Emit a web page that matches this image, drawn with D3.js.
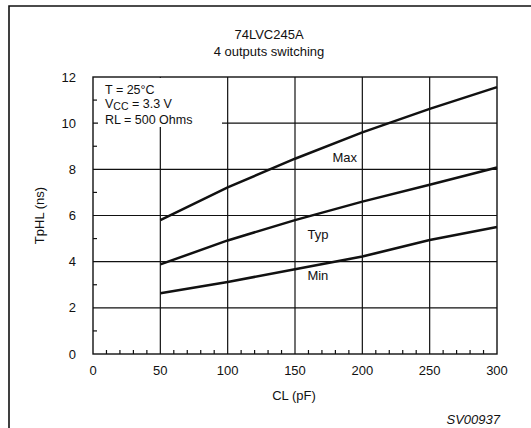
<!DOCTYPE html>
<html lang="en">
<head>
<meta charset="UTF-8">
<title>74LVC245A TpHL vs CL</title>
<script src="https://d3js.org/d3.v7.min.js"></script>
<style>
  body { margin: 0; background: #fff; }
  svg text { font-family: "Liberation Sans", Arial, sans-serif; fill: #111; }
</style>
</head>
<body>
<div id="chart"></div>
<script>
// data
const loads = [50, 100, 150, 200, 250, 300];           // CL (pF)
const maxDelay = [5.8, 7.22, 8.46, 9.6, 10.62, 11.56];  // ns
const typDelay = [3.88, 4.92, 5.8, 6.6, 7.33, 8.08];
const minDelay = [2.63, 3.12, 3.67, 4.22, 4.94, 5.5];
const seriesNames = ["Max", "Typ", "Min"];
const xTicks = [0, 50, 100, 150, 200, 250, 300];
const yTicks = [0, 2, 4, 6, 8, 10, 12];

const W = 531, H = 428;
const fs = 13;
const svg = d3.select("#chart").append("svg").attr("width", W).attr("height", H);

// outer frame (left + top only, like the scan)
svg.append("path").attr("d", `M9,428V6H531`).attr("fill", "none")
  .attr("stroke", "#111").attr("stroke-width", 1.6);

const x = d3.scaleLinear().domain([0, 300]).range([93, 497]);
const y = d3.scaleLinear().domain([0, 12]).range([354, 77]);

// titles
svg.append("text").attr("x", 269).attr("y", 39).attr("text-anchor", "middle")
  .attr("font-size", fs).text("74LVC245A");
svg.append("text").attr("x", 269).attr("y", 56).attr("text-anchor", "middle")
  .attr("font-size", fs).text("4 outputs switching");

const grid = svg.append("g").attr("stroke", "#111").attr("stroke-width", 1.2);
// vertical grid lines
grid.selectAll("line.v").data(xTicks.filter(d => d > 0 && d < 300)).join("line")
  .attr("class", "v")
  .attr("x1", d => x(d)).attr("x2", d => x(d)).attr("y1", y(12)).attr("y2", y(0));
// horizontal grid lines
grid.selectAll("line.h").data(yTicks.filter(d => d > 0 && d < 12)).join("line")
  .attr("class", "h")
  .attr("x1", x(0)).attr("x2", x(300)).attr("y1", d => y(d)).attr("y2", d => y(d));

// minor ticks
const minorX = d3.range(10, 300, 10).filter(d => d % 50 !== 0);
grid.selectAll("line.mx").data(minorX).join("line").attr("class", "mx")
  .attr("x1", d => x(d)).attr("x2", d => x(d)).attr("y1", y(0)).attr("y2", y(0) - 4);
const minorY = d3.range(1, 12, 2);
grid.selectAll("line.my").data(minorY).join("line").attr("class", "my")
  .attr("x1", x(0)).attr("x2", x(0) + 4).attr("y1", d => y(d)).attr("y2", d => y(d));

// mask behind conditions text
svg.append("rect").attr("x", x(0) + 5).attr("y", y(12) + 1).attr("width", 124).attr("height", 49)
  .attr("fill", "#fff");

// plot frame
svg.append("rect").attr("x", x(0)).attr("y", y(12)).attr("width", x(300) - x(0))
  .attr("height", y(0) - y(12)).attr("fill", "none").attr("stroke", "#111").attr("stroke-width", 1.4);

// conditions
const cond = svg.append("g").attr("font-size", 12.5);
cond.append("text").attr("x", 105).attr("y", 94).text("T = 25°C");
const vcc = cond.append("text").attr("x", 105).attr("y", 108);
vcc.append("tspan").text("V");
vcc.append("tspan").attr("dy", 2).attr("font-size", 10.5).text("CC");
vcc.append("tspan").attr("dy", -2).text(" = 3.3 V");
cond.append("text").attr("x", 105).attr("y", 124).text("RL = 500 Ohms");

// curves
const line = d3.line().x((d, i) => x(loads[i])).y(d => y(d));
svg.selectAll("path.curve").data([maxDelay, typDelay, minDelay]).join("path")
  .attr("class", "curve").attr("d", line).attr("fill", "none")
  .attr("stroke", "#111").attr("stroke-width", 2.5);

// curve labels
const labelPos = [[187, 8.33], [167, 4.98], [167, 3.2]];
svg.selectAll("text.lbl").data(seriesNames).join("text").attr("class", "lbl")
  .attr("x", (d, i) => x(labelPos[i][0])).attr("y", (d, i) => y(labelPos[i][1]))
  .attr("text-anchor", "middle").attr("font-size", fs).text(d => d);

// tick labels
svg.selectAll("text.xt").data(xTicks).join("text").attr("class", "xt")
  .attr("x", d => x(d)).attr("y", 375).attr("text-anchor", "middle")
  .attr("font-size", fs).text(d => d);
svg.selectAll("text.yt").data(yTicks).join("text").attr("class", "yt")
  .attr("x", 76).attr("y", d => y(d) + 4.5).attr("text-anchor", "end")
  .attr("font-size", fs).text(d => d);

// axis titles
svg.append("text").attr("x", 294).attr("y", 400).attr("text-anchor", "middle")
  .attr("font-size", fs).text("CL (pF)");
svg.append("text").attr("transform", `translate(44,${y(6)}) rotate(-90)`)
  .attr("text-anchor", "middle").attr("font-size", fs).text("TpHL (ns)");
svg.append("text").attr("x", 500).attr("y", 424).attr("text-anchor", "end")
  .attr("font-size", fs).attr("font-style", "italic").text("SV00937");
</script>
</body>
</html>
